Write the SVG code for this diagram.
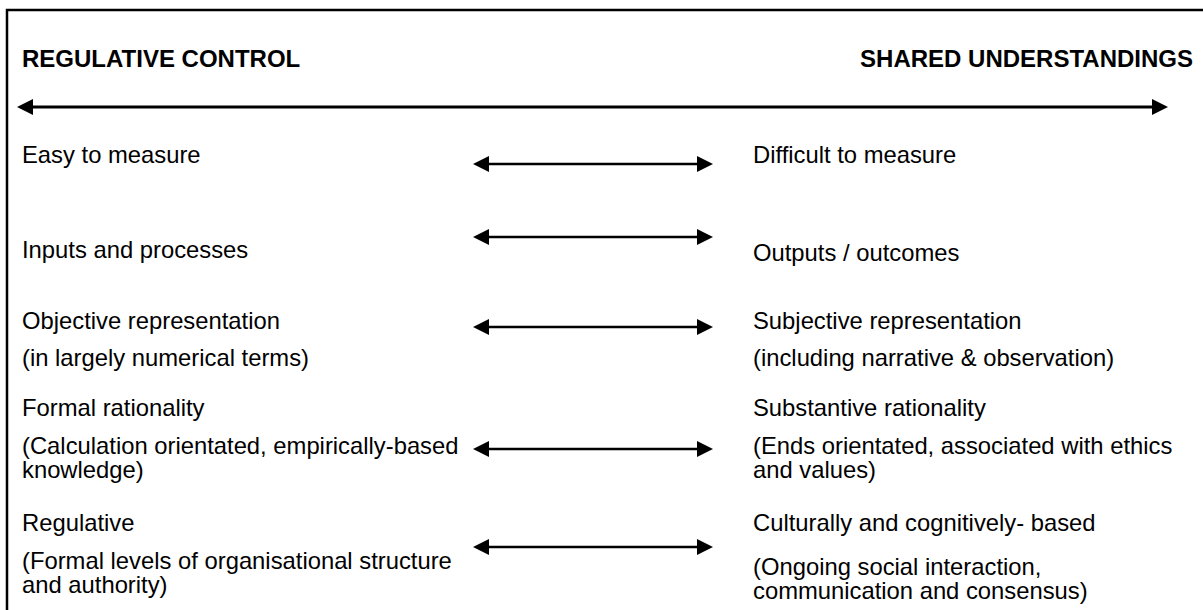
<svg xmlns="http://www.w3.org/2000/svg" width="1203" height="610" viewBox="0 0 1203 610">
<style>
text{font-family:"Liberation Sans",Arial,sans-serif;fill:#000}
.h{font-size:24px;font-weight:bold}
.t{font-size:23.8px}
.main{stroke:#000;stroke-width:3;fill:none}
.sm{stroke:#000;stroke-width:2.5;fill:none}
.hd{fill:#000}
</style>
<rect x="7" y="10" width="1220" height="640" fill="#fff" stroke="#000" stroke-width="2.5"/>
<g id="headings">
<text class="h" x="22" y="67">REGULATIVE CONTROL</text>
<text class="h" x="1193" y="67" text-anchor="end">SHARED UNDERSTANDINGS</text>
</g>
<g id="connectors">
<line class="main" x1="30" y1="107" x2="1155" y2="107"/>
<polygon class="hd" points="17,107 33,99 33,115"/>
<polygon class="hd" points="1168,107 1152,99 1152,115"/>
<g id="a1"><line class="sm" x1="485" y1="164" x2="700" y2="164"/><polygon class="hd" points="473,164 489,156 489,172"/><polygon class="hd" points="713,164 697,156 697,172"/></g>
<g id="a2"><line class="sm" x1="485" y1="237" x2="700" y2="237"/><polygon class="hd" points="473,237 489,229 489,245"/><polygon class="hd" points="713,237 697,229 697,245"/></g>
<g id="a3"><line class="sm" x1="485" y1="327" x2="700" y2="327"/><polygon class="hd" points="473,327 489,319 489,335"/><polygon class="hd" points="713,327 697,319 697,335"/></g>
<g id="a4"><line class="sm" x1="485" y1="449" x2="700" y2="449"/><polygon class="hd" points="473,449 489,441 489,457"/><polygon class="hd" points="713,449 697,441 697,457"/></g>
<g id="a5"><line class="sm" x1="485" y1="547" x2="700" y2="547"/><polygon class="hd" points="473,547 489,539 489,555"/><polygon class="hd" points="713,547 697,539 697,555"/></g>
</g>
<g id="left">
<text class="t" x="22" y="163">Easy to measure</text>
<text class="t" x="22" y="258">Inputs and processes</text>
<text class="t" x="22" y="329">Objective representation</text>
<text class="t" x="22" y="366">(in largely numerical terms)</text>
<text class="t" x="22" y="416">Formal rationality</text>
<text class="t" x="22" y="454">(Calculation orientated, empirically-based</text>
<text class="t" x="22" y="478">knowledge)</text>
<text class="t" x="22" y="531">Regulative</text>
<text class="t" x="22" y="569">(Formal levels of organisational structure</text>
<text class="t" x="22" y="593">and authority)</text>
</g>
<g id="right">
<text class="t" x="753" y="163">Difficult to measure</text>
<text class="t" x="753" y="261">Outputs / outcomes</text>
<text class="t" x="753" y="329">Subjective representation</text>
<text class="t" x="753" y="366">(including narrative &amp; observation)</text>
<text class="t" x="753" y="416">Substantive rationality</text>
<text class="t" x="753" y="454">(Ends orientated, associated with ethics</text>
<text class="t" x="753" y="478">and values)</text>
<text class="t" x="753" y="531">Culturally and cognitively- based</text>
<text class="t" x="753" y="575">(Ongoing social interaction,</text>
<text class="t" x="753" y="599">communication and consensus)</text>
</g>
</svg>
